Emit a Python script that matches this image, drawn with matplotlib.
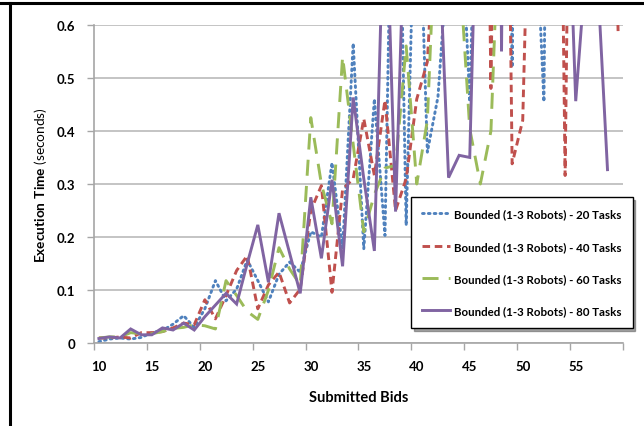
import numpy as np
import matplotlib
matplotlib.use('Agg')
import matplotlib.pyplot as plt
from matplotlib.lines import Line2D

bids = list(range(10, 60))

t20 = [0.003, 0.008, 0.010, 0.008, 0.011, 0.020, 0.024, 0.036, 0.052, 0.030,
       0.065, 0.118, 0.080, 0.102, 0.157, 0.118, 0.078, 0.130, 0.153, 0.134,
       0.210, 0.200, 0.340, 0.178, 0.565, 0.178, 0.460, 0.203, 1.300, 0.222,
       1.000, 0.360, 0.464, 0.750, 0.900, 0.455, 1.200, 0.900, 2.500, 0.520,
       2.500, 0.900, 0.455, 2.500, 0.900, 0.900, 0.900, 0.900, 0.900, 0.900]

t40 = [0.010, 0.010, 0.012, 0.010, 0.020, 0.020, 0.022, 0.029, 0.038, 0.035,
       0.082, 0.046, 0.090, 0.137, 0.165, 0.065, 0.110, 0.134, 0.076, 0.102,
       0.250, 0.297, 0.096, 0.290, 0.310, 0.423, 0.316, 0.458, 0.250, 0.310,
       0.460, 0.530, 0.900, 0.900, 0.900, 0.900, 2.000, 0.480, 2.000, 0.338,
       0.420, 1.200, 0.900, 2.000, 0.316, 2.000, 0.900, 0.900, 1.500, 0.587]

t60 = [0.010, 0.012, 0.012, 0.020, 0.018, 0.018, 0.022, 0.028, 0.030, 0.035,
       0.033, 0.027, 0.118, 0.090, 0.060, 0.045, 0.100, 0.180, 0.140, 0.110,
       0.425, 0.300, 0.225, 0.540, 0.375, 0.210, 0.280, 0.330, 0.335, 0.560,
       0.300, 0.420, 0.900, 0.900, 0.720, 0.404, 0.300, 0.400, 0.930, 0.900,
       0.900, 0.900, 0.900, 0.900, 0.900, 0.900, 0.900, 0.900, 0.900, 0.900]

t80 = [0.009, 0.012, 0.010, 0.027, 0.016, 0.016, 0.029, 0.025, 0.038, 0.025,
       0.050, 0.072, 0.094, 0.074, 0.150, 0.223, 0.115, 0.245, 0.170, 0.094,
       0.275, 0.160, 0.308, 0.145, 0.463, 0.310, 0.174, 0.900, 0.248, 0.900,
       0.900, 0.900, 0.800, 0.312, 0.354, 0.350, 1.130, 3.000, 0.550, 3.000,
       0.900, 0.900, 0.900, 0.900, 1.030, 0.456, 0.720, 0.710, 0.327, np.nan]

labels = ['Bounded (1-3 Robots) - 20 Tasks', 'Bounded (1-3 Robots) - 40 Tasks',
          'Bounded (1-3 Robots) - 60 Tasks', 'Bounded (1-3 Robots) - 80 Tasks']
yticks = [0, 0.1, 0.2, 0.3, 0.4, 0.5, 0.6]
xtick_labels = [10, 15, 20, 25, 30, 35, 40, 45, 50, 55]

plt.rcParams['font.family'] = ['Lato', 'DejaVu Sans']
plt.rcParams['mathtext.fontset'] = 'custom'
plt.rcParams['mathtext.rm'] = 'Lato'
plt.rcParams['mathtext.bf'] = 'Lato:bold'

fig = plt.figure(figsize=(6.44, 4.27), dpi=100)
ax = fig.add_axes([0.1453, 0.1937, 0.8227, 0.7461])

colors = ['#4F81BD', '#C0504D', '#9BBB59', '#8064A2']
styles = [(0, (0.6, 1.4)), (0, (2.6, 1.6)), (0, (5.5, 3.5)), '-']
caps = ['round', 'butt', 'butt', 'butt']
for series, c, ls, cap, lab in zip([t20, t40, t60, t80], colors, styles, caps, labels):
    ax.plot(bids, series, color=c, linestyle=ls, lw=2.1, label=lab,
            dash_capstyle=cap, solid_joinstyle='miter')

ax.set_xlim(9.5, 59.5)
ax.set_ylim(0, 0.6)
ax.set_yticks(yticks)
ax.set_yticklabels(['0' if v == 0 else f'{v:.1f}' for v in yticks])
ax.set_xticks(xtick_labels)
ax.set_xticklabels([str(v) for v in xtick_labels])
ax.set_xticks(np.arange(9.5, 60, 5), minor=True)
ax.tick_params(axis='x', which='major', length=0, pad=12, labelsize=9.5, colors='#000000')
ax.tick_params(axis='x', which='minor', length=5, color='#a6a6a6', width=1)
ax.tick_params(axis='y', which='major', length=5, color='#a6a6a6', width=1, pad=8, labelsize=9.5)
for lbl in ax.get_xticklabels() + ax.get_yticklabels():
    lbl.set_fontweight('bold')

ax.grid(axis='y', color='#bfbfbf', lw=1.3)
ax.set_axisbelow(True)
for s in ['top', 'right']:
    ax.spines[s].set_visible(False)
for s in ['left', 'bottom']:
    ax.spines[s].set_color('#a6a6a6')
    ax.spines[s].set_linewidth(1.2)

ax.set_xlabel('Submitted Bids', fontsize=10.5, fontweight='bold', labelpad=13)
ax.set_ylabel(r'$\mathbf{Execution\ Time}$ (seconds)', fontsize=9.8, labelpad=6)

leg = ax.legend(loc='upper left', bbox_to_anchor=(0.638, 1 - 198 / 427),
                bbox_transform=fig.transFigure,
                frameon=True, fancybox=False, shadow=True, edgecolor='black',
                framealpha=1, prop={'weight': 'bold', 'size': 8.3},
                labelspacing=1.85, handlelength=2.4, borderpad=1.0, handletextpad=0.3,
                borderaxespad=0)
leg.get_frame().set_linewidth(1.0)

fig.add_artist(Line2D([0, 1], [1 - 4 / 427, 1 - 4 / 427], transform=fig.transFigure,
                      color='black', lw=2.2))
fig.add_artist(Line2D([10 / 644, 10 / 644], [0, 1 - 4 / 427], transform=fig.transFigure,
                      color='black', lw=2.2))

fig.savefig('out.png', dpi=100)
